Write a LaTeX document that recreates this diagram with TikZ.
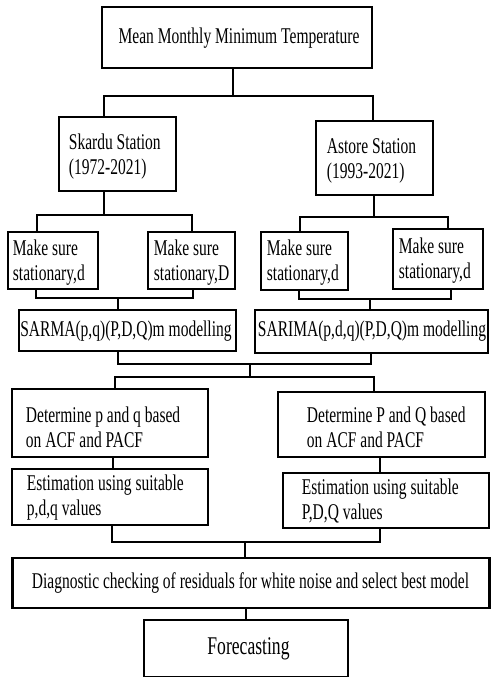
\documentclass[tikz,border=0pt]{standalone}
\usepackage{fontspec}
\setmainfont{Liberation Serif}[FakeStretch=0.69]
\begin{document}
\begin{tikzpicture}[x=1pt,y=-1pt,
  box/.style={draw, line width=2.6pt, inner sep=0pt},
  txt/.style={inner sep=0pt, align=left, font=\fontsize{22.5}{25}\selectfont},
  ctxt/.style={inner sep=0pt, align=center, font=\fontsize{22.5}{25}\selectfont},
  conn/.style={line width=2.6pt, line cap=rect}]
\useasboundingbox (0,0) rectangle (490,677);
% boxes
\node[box, minimum width=270, minimum height=61] (top) at (237,37.5) {};
\node[ctxt] (topT) at (239,38) {Mean Monthly Minimum Temperature};
\node[box, minimum width=117, minimum height=74] (skardu) at (117.5,154) {};
\node[txt, anchor=west] (skarduT) at ([xshift=11pt,yshift=-3pt]skardu.west) {Skardu Station\\(1972-2021)};
\node[box, minimum width=117, minimum height=74] (astore) at (374.5,158) {};
\node[txt, anchor=west] (astoreT) at ([xshift=12pt,yshift=-3pt]astore.west) {Astore Station\\(1993-2021)};
\node[box, minimum width=90, minimum height=57] (ma) at (53,260.5) {};
\node[txt, anchor=west] (maT) at ([xshift=6pt,yshift=-2pt]ma.west) {Make sure\\stationary,d};
\node[box, minimum width=87, minimum height=57] (mb) at (191.5,260.5) {};
\node[txt, anchor=west] (mbT) at ([xshift=7pt,yshift=-2pt]mb.west) {Make sure\\stationary,D};
\node[box, minimum width=87, minimum height=58] (mc) at (304.5,261) {};
\node[txt, anchor=west] (mcT) at ([xshift=7pt,yshift=-2pt]mc.west) {Make sure\\stationary,d};
\node[box, minimum width=90, minimum height=60] (md) at (438,259) {};
\node[txt, anchor=west] (mdT) at ([xshift=7pt,yshift=-2pt]md.west) {Make sure\\stationary,d};
\node[box, minimum width=217, minimum height=41] (sarma) at (127.5,330.5) {};
\node[ctxt] (sarmaT) at (126,331) {SARMA(p,q)(P,D,Q)m modelling};
\node[box, minimum width=233, minimum height=43] (sarima) at (371.5,331.5) {};
\node[ctxt] (sarimaT) at (372,331) {SARIMA(p,d,q)(P,D,Q)m modelling};
\node[box, minimum width=196, minimum height=68] (detl) at (110,423) {};
\node[txt, anchor=west] (detlT) at ([xshift=15pt,yshift=-4pt]detl.west) {Determine p and q based\\on ACF and PACF};
\node[box, minimum width=207, minimum height=65] (detr) at (381.5,424.5) {};
\node[txt, anchor=west] (detrT) at ([xshift=30pt,yshift=-3pt]detr.west) {Determine P and Q based\\on ACF and PACF};
\node[box, minimum width=196, minimum height=56] (estl) at (110,497) {};
\node[txt, anchor=west] (estlT) at ([xshift=16pt,yshift=-1pt]estl.west) {Estimation using suitable\\p,d,q values};
\node[box, minimum width=206, minimum height=55] (estr) at (386,500.5) {};
\node[txt, anchor=west] (estrT) at ([xshift=20pt,yshift=-1pt]estr.west) {Estimation using suitable\\P,D,Q values};
\node[box, minimum width=477, minimum height=50] (diag) at (251,583) {};
\node[ctxt] (diagT) at (250.5,583) {Diagnostic checking of residuals for white noise and select best model};
\node[box, minimum width=204, minimum height=57] (fore) at (246,648.5) {};
\node[ctxt, font=\fontsize{25.5}{28}\selectfont] (foreT) at (248.5,649) {Forecasting};
% junction coordinates
\coordinate (j0) at (233,96);
\coordinate (j1) at (104,96);
\coordinate (j2) at (373,96);
\coordinate (k0) at (104,215);
\coordinate (k1) at (37,215);
\coordinate (k2) at (192,215);
\coordinate (l0) at (374,217);
\coordinate (l1) at (300,217);
\coordinate (l2) at (448,217);
\coordinate (m1) at (36,298);
\coordinate (m2) at (193,298);
\coordinate (m0) at (118,298);
\coordinate (n1) at (299,299);
\coordinate (n2) at (451,299);
\coordinate (n0) at (370,299);
\coordinate (p1) at (118,364);
\coordinate (p2) at (371,364);
\coordinate (p0) at (250,364);
\coordinate (q0) at (250,377);
\coordinate (q1) at (115,377);
\coordinate (q2) at (374,377);
\coordinate (r1) at (113,463);
\coordinate (r2) at (380,465);
\coordinate (s1) at (112,542);
\coordinate (s2) at (380,542);
\coordinate (s0) at (245,542);
\coordinate (u0) at (246,614);
% connectors
\draw[conn] (j0 |- top.south) -- (j0);
\draw[conn] (j1 |- skardu.north) -- (j1) -- (j2) -- (j2 |- astore.north);
\draw[conn] (k0 |- skardu.south) -- (k0);
\draw[conn] (k1 |- ma.north) -- (k1) -- (k2) -- (k2 |- mb.north);
\draw[conn] (l0 |- astore.south) -- (l0);
\draw[conn] (l1 |- mc.north) -- (l1) -- (l2) -- (l2 |- md.north);
\draw[conn] (m1 |- ma.south) -- (m1) -- (m2) -- (m2 |- mb.south);
\draw[conn] (m0) -- (m0 |- sarma.north);
\draw[conn] (n1 |- mc.south) -- (n1) -- (n2) -- (n2 |- md.south);
\draw[conn] (n0) -- (n0 |- sarima.north);
\draw[conn] (p1 |- sarma.south) -- (p1) -- (p2) -- (p2 |- sarima.south);
\draw[conn] (p0) -- (q0);
\draw[conn] (q1 |- detl.north) -- (q1) -- (q2) -- (q2 |- detr.north);
\draw[conn] (r1 |- detl.south) -- (r1 |- estl.north);
\draw[conn] (r2 |- detr.south) -- (r2 |- estr.north);
\draw[conn] (s1 |- estl.south) -- (s1) -- (s2) -- (s2 |- estr.south);
\draw[conn] (s0) -- (s0 |- diag.north);
\draw[conn] (u0 |- diag.south) -- (u0 |- fore.north);
\end{tikzpicture}
\end{document}
